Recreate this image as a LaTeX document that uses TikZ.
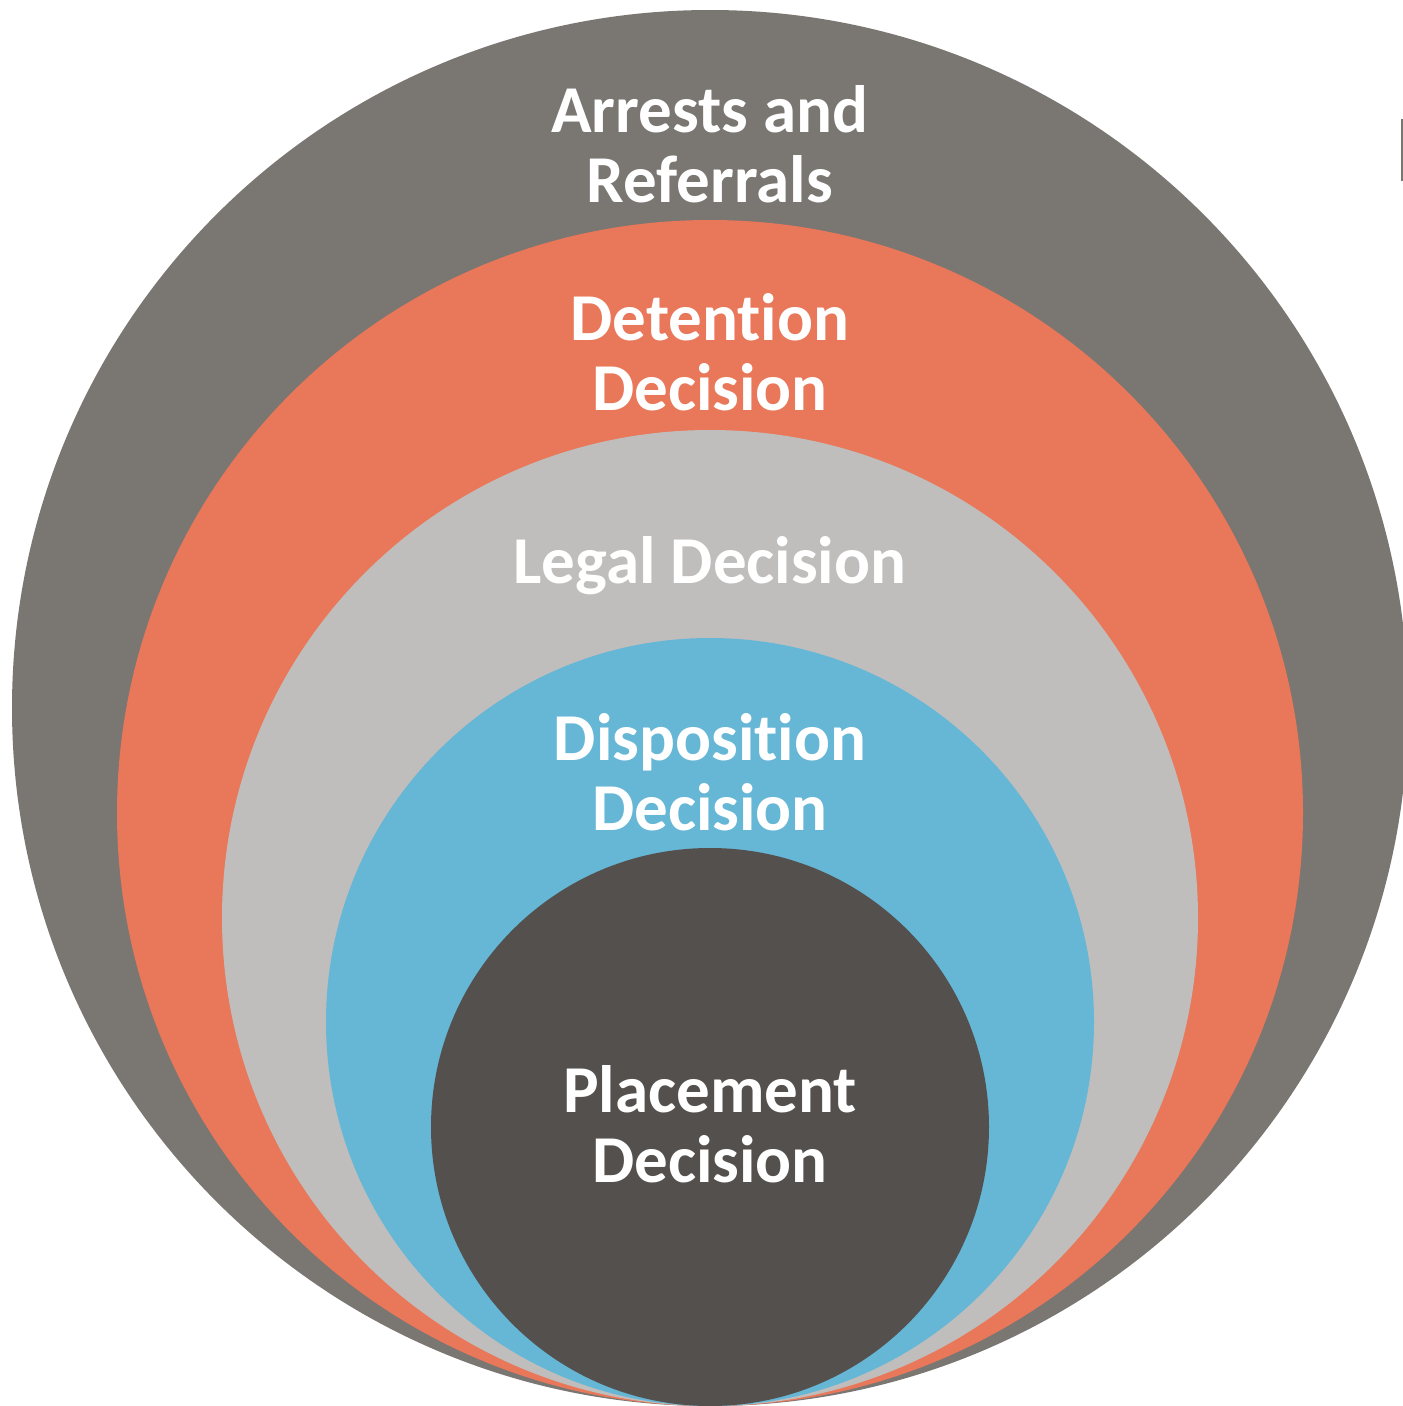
\documentclass[tikz,border=0pt]{standalone}
\usepackage{fontspec}
\setmainfont{Carlito}[Ligatures={NoCommon}]
\definecolor{ringA}{HTML}{7A7672}
\definecolor{ringB}{HTML}{E97759}
\definecolor{ringC}{HTML}{BFBEBC}
\definecolor{ringD}{HTML}{66B6D6}
\definecolor{ringE}{HTML}{54504D}
\tikzset{
  ring/.style={circle, inner sep=0pt, outer sep=0pt, draw=none},
  lbl/.style={anchor=base, text=white, inner sep=0pt, font=\fontsize{67}{70}\selectfont\bfseries}
}
\begin{document}
\begin{tikzpicture}[x=1pt,y=-1pt]
\useasboundingbox[fill=white] (0,0) rectangle (1403,1406);
\node[ring, fill=ringA, minimum size=1396pt] (c1) at (710,708) {};
\node[ring, fill=ringB, minimum size=1186pt] (c2) at (710,813) {};
\node[ring, fill=ringC, minimum size=976pt] (c3) at (710,918) {};
\node[ring, fill=ringD, minimum size=768pt] (c4) at (710,1022) {};
\node[ring, fill=ringE, minimum size=558pt] (c5) at (710,1127) {};
\fill[ringA] (1401,119) rectangle (1403,181);
\node[lbl] (a1) at (710,132) {Arrests and};
\node[lbl] (a2) at (710,202) {Referrals};
\node[lbl] (b1) at (710,340) {Detention};
\node[lbl] (b2) at (710,410) {Decision};
\node[lbl] (l1) at (710,583) {Legal Decision};
\node[lbl] (d1) at (710,760) {Disposition};
\node[lbl] (d2) at (710,830) {Decision};
\node[lbl] (p1) at (710,1112) {Placement};
\node[lbl] (p2) at (710,1182) {Decision};
\end{tikzpicture}
\end{document}
